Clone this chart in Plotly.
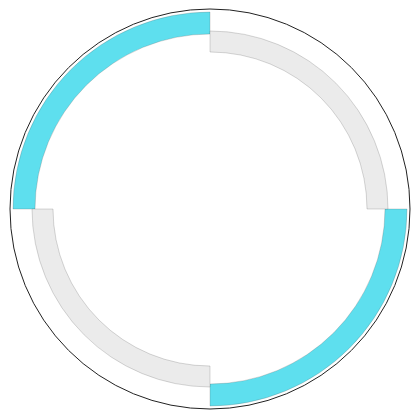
import plotly.graph_objects as go

theta = [135, 315, 45, 225]
r_len = [11, 11, 10.5, 10.5]
base = [87.5, 87.5, 78.5, 78.5]
colors = ["#5EDFEE", "#5EDFEE", "#EBEBEB", "#EBEBEB"]

fig = go.Figure()
fig.add_trace(go.Barpolar(
    theta=theta, r=r_len, base=base, width=[90] * 4,
    marker=dict(color=colors, line=dict(color="rgba(80,80,80,0.45)", width=0.5)),
    hoverinfo="skip",
))
fig.update_layout(
    width=420, height=420,
    margin=dict(l=2, r=18, t=1, b=19),
    paper_bgcolor="white",
    showlegend=False,
    polar=dict(
        bgcolor="white",
        radialaxis=dict(range=[0, 100], visible=False, showgrid=False),
        angularaxis=dict(showgrid=False, showticklabels=False, ticks="",
                         showline=True, linecolor="#222", linewidth=1),
    ),
)
fig.write_html("out.html")
